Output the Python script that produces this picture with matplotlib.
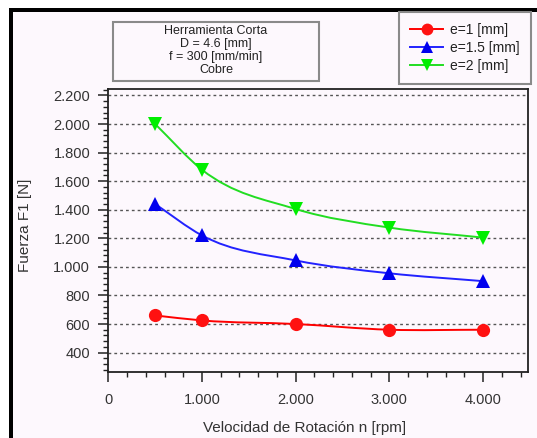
import matplotlib
matplotlib.use("Agg")
import matplotlib.pyplot as plt
import numpy as np
from matplotlib.lines import Line2D
from matplotlib.patches import PathPatch, Rectangle
from matplotlib.path import Path
from matplotlib.ticker import FuncFormatter, MultipleLocator

plt.rcParams["font.family"] = ["Liberation Sans", "DejaVu Sans"]

# Data
rpm = [500, 1000, 2000, 3000, 4000]
fuerza_e1 = [660, 625, 600, 560, 560]
fuerza_e15 = [1440, 1220, 1045, 955, 900]
fuerza_e2 = [2000, 1680, 1405, 1275, 1205]

series_labels = ["e=1 [mm]", "e=1.5 [mm]", "e=2 [mm]"]
line_colors = ["#ff0000", "#2222ff", "#22dd22"]
marker_colors = ["#ff1111", "#0000ee", "#00ee00"]
markers = ["o", "^", "v"]

info_lines = ["Herramienta Corta", "D = 4.6 [mm]", "f = 300 [mm/min]", "Cobre"]

W, H = 537, 438
BG = "#fdf8fd"


def smooth_path(xs, ys):
    # cubic Hermite curve through the points, drawn as bezier segments
    xs = np.asarray(xs, float)
    ys = np.asarray(ys, float)
    h = np.diff(xs)
    s = np.diff(ys) / h
    d = np.empty_like(ys)
    d[0] = s[0]
    d[-1] = s[-1]
    for i in range(1, len(xs) - 1):
        d[i] = (h[i] * s[i - 1] + h[i - 1] * s[i]) / (h[i - 1] + h[i])
    verts = [(xs[0], ys[0])]
    codes = [Path.MOVETO]
    for i in range(len(xs) - 1):
        verts.append((xs[i] + h[i] / 3, ys[i] + d[i] * h[i] / 3))
        verts.append((xs[i + 1] - h[i] / 3, ys[i + 1] - d[i + 1] * h[i] / 3))
        verts.append((xs[i + 1], ys[i + 1]))
        codes += [Path.CURVE4] * 3
    return Path(verts, codes)


fig = plt.figure(figsize=(W / 100, H / 100), dpi=100)
fig.patch.set_facecolor("white")

# pinkish page with black frame on left and top
fig.patches.append(Rectangle((13 / W, 0), 1, 1 - 12 / H, transform=fig.transFigure,
                             facecolor=BG, edgecolor="none", zorder=-2))
fig.patches.append(Rectangle((9 / W, 0), 4 / W, 1 - 8 / H, transform=fig.transFigure,
                             facecolor="black", edgecolor="none", zorder=-1))
fig.patches.append(Rectangle((9 / W, 1 - 12 / H), 1, 4 / H, transform=fig.transFigure,
                             facecolor="black", edgecolor="none", zorder=-1))

ax = fig.add_axes([108.3 / W, 1 - 372.3 / H, (528 - 108.3) / W, (372.3 - 89) / H])
ax.set_zorder(2)
ax.set_facecolor(BG)

all_series = [fuerza_e1, fuerza_e15, fuerza_e2]
handles = []
for vals, lc, mc, mk, lab in zip(all_series, line_colors, marker_colors, markers, series_labels):
    ax.add_patch(PathPatch(smooth_path(rpm, vals), facecolor="none", edgecolor=lc,
                           lw=1.4, zorder=3))
    ax.plot(rpm, vals, linestyle="none", marker=mk, markersize=9.5, color=mc,
            markeredgewidth=0, zorder=4)
    handles.append(Line2D([], [], color=lc, lw=1.4, marker=mk, markersize=8.5,
                          markerfacecolor=mc, markeredgewidth=0, label=lab))

ax.set_xlim(0, 4480)
ax.set_ylim(262, 2245)
ax.xaxis.set_major_locator(MultipleLocator(1000))
ax.xaxis.set_minor_locator(MultipleLocator(200))
ax.yaxis.set_major_locator(MultipleLocator(200))
ax.yaxis.set_minor_locator(MultipleLocator(40))

thousands = FuncFormatter(lambda v, p: f"{int(v):,}".replace(",", "."))
ax.xaxis.set_major_formatter(thousands)
ax.yaxis.set_major_formatter(thousands)
ax.set_yticks([400, 600, 800, 1000, 1200, 1400, 1600, 1800, 2000, 2200])

ax.tick_params(axis="both", which="major", direction="out", length=7, width=1.1,
               labelsize=10.5, labelcolor="#333333", color="#222222")
ax.tick_params(axis="both", which="minor", direction="out", length=3.5, width=1,
               color="#222222")
ax.tick_params(axis="x", which="major", pad=8)
ax.tick_params(axis="y", which="major", pad=6)
ax.tick_params(axis="x", which="both", top=False)
ax.tick_params(axis="y", which="both", right=False)

ax.yaxis.grid(True, which="major", color="#555555", linestyle=(0, (2, 2.2)), lw=1)
ax.set_axisbelow(True)
for sp in ax.spines.values():
    sp.set_color("#222222")
    sp.set_linewidth(1.3)

fig.text(25 / W, 1 - 225 / H, "Fuerza F1 [N]", rotation=90, ha="center", va="center",
         fontsize=11, color="#333333")
fig.text(305 / W, 1 - 428 / H, "Velocidad de Rotación n [rpm]", ha="center", va="center",
         fontsize=11, color="#333333")

# info box
fig.patches.append(Rectangle((113 / W, 1 - 81 / H), (319 - 113) / W, (81 - 22) / H,
                             transform=fig.transFigure, facecolor=BG,
                             edgecolor="#8a8a8a", lw=1.5, zorder=2))
for i, line in enumerate(info_lines):
    fig.text(216 / W, 1 - (30.5 + 13.3 * i) / H, line, ha="center", va="center",
             fontsize=9, color="#222222", zorder=3)

leg = fig.legend(handles=handles, loc="upper left", bbox_to_anchor=(399 / W, 1 - 12 / H),
                 borderaxespad=0, fontsize=10, frameon=True, fancybox=False,
                 edgecolor="#8a8a8a", facecolor=BG, framealpha=1, handlelength=2.4,
                 handletextpad=0.5, labelspacing=0.28, borderpad=0.8)
leg.get_frame().set_linewidth(1.5)
for t in leg.get_texts():
    t.set_color("#222222")

fig.savefig("out.png", dpi=100, facecolor="white")
